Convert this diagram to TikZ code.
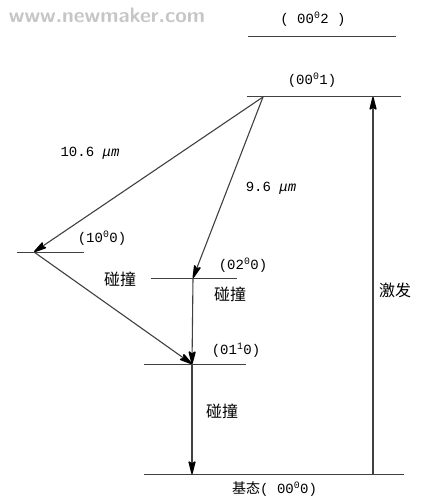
\documentclass[tikz,border=0pt]{standalone}
\usepackage{fontspec}
\setmainfont{Liberation Sans}
\setmonofont{Liberation Mono}
\newfontfamily\cjk{Noto Sans CJK SC}
\usetikzlibrary{arrows.meta}

\begin{document}
\begin{tikzpicture}[x=1pt, y=-1pt, >={Stealth[length=16pt, width=8pt, inset=3pt, line width=1.5pt, round, color=black, fill=black]},
  level/.style={line width=1pt, draw=black!75},
  trans/.style={->, line width=1.1pt, draw=black!75},
  lbl/.style={font=\fontsize{14}{16}\ttfamily, inner sep=1pt},
  zh/.style={font=\fontsize{16}{18}\cjk, inner sep=1pt}
]
  \useasboundingbox (0,0) rectangle (432,502);

  % watermark
  \node[font=\fontsize{21}{23}\bfseries\sffamily, text=gray!45] (wm) at (107,15) {www.newmaker.com};

  % energy levels
  \coordinate (e2l) at (248,37);  \coordinate (e2r) at (396,37);
  \coordinate (e1l) at (247,97);  \coordinate (e1r) at (401,97);
  \coordinate (s1l) at (17,252);  \coordinate (s1r) at (84,252);
  \coordinate (b2l) at (151,278); \coordinate (b2r) at (237,278);
  \coordinate (b1l) at (144,364); \coordinate (b1r) at (246,364);
  \coordinate (gl) at (144,474);  \coordinate (gr) at (404,474);

  \draw[level] (e2l) -- (e2r);
  \draw[level] (e1l) -- (e1r);
  \draw[level] (s1l) -- (s1r);
  \draw[level] (b2l) -- (b2r);
  \draw[level] (b1l) -- (b1r);
  \draw[level] (gl) -- (gr);

  % level labels
  \node[lbl] (l002) at (313,19) {( 00\textsuperscript{0}2 )};
  \node[lbl] (l001) at (312,80) {(00\textsuperscript{0}1)};
  \node[lbl] (l100) at (102,238) {(10\textsuperscript{0}0)};
  \node[lbl] (l020) at (243,265) {(02\textsuperscript{0}0)};
  \node[lbl] (l011) at (236,350) {(01\textsuperscript{1}0)};
  \node[lbl, anchor=west] (l000) at (231,489) {{\cjk 基态}( 00\textsuperscript{0}0)};

  % transition points
  \coordinate (up) at (263,97);
  \coordinate (s1) at (34,252);
  \coordinate (b2) at (193,278);
  \coordinate (b1) at (192,364);
  \coordinate (g0) at (192,474);
  \coordinate (xg) at (373,474);
  \coordinate (xu) at (373,97);

  % laser lines
  \draw[trans] (up) -- (s1);
  \draw[trans] (up) -- (b2);
  \node[lbl] (w106) at (90,153) {10.6 \textit{μm}};
  \node[lbl] (w96) at (271,188) {9.6 \textit{μm}};

  % relaxation
  \draw[trans] (b2) -- (b1);
  \draw[trans] (s1) -- (b1);
  \draw[trans] (b1) -- (g0);
  \node[zh] (c1) at (120,279) {碰撞};
  \node[zh] (c2) at (230,294) {碰撞};
  \node[zh] (c3) at (222,411) {碰撞};

  % pumping
  \draw[trans] (xg) -- (xu);
  \node[zh] (jf) at (395,290) {激发};
\end{tikzpicture}
\end{document}
